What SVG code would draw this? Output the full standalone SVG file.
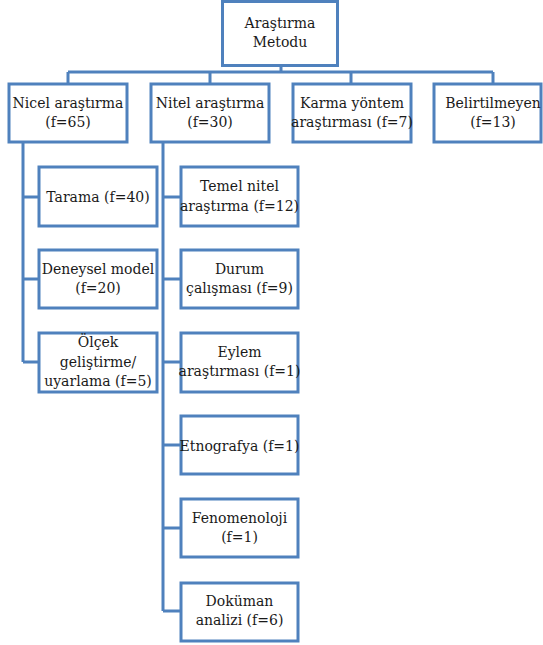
<svg xmlns="http://www.w3.org/2000/svg" width="543" height="645" viewBox="0 0 543 645">
<style>
.b{fill:#fff;stroke:#4f81bd;stroke-width:3}
.c{fill:none;stroke:#4f81bd;stroke-width:3}
text{font-family:'DejaVu Serif',serif;font-size:14px;fill:#1a1a1a;text-anchor:middle}
</style>
<rect width="543" height="645" fill="#fff"/>
<g id="connectors">
<path class="c" d="M281,66V72M68,72H493M68,72V84M210,72V84M351,72V84M493,72V84"/>
<path class="c" d="M23,142V362M23,197H39M23,279H39M23,362H39"/>
<path class="c" d="M163,142V611M163,197H181M163,279H181M163,362H181M163,445H181M163,528H181M163,611H181"/>
</g>
<g id="root"><rect class="b" x="222.5" y="1.5" width="115" height="64"/><text x="280" y="28">Araştırma</text><text x="280" y="46.5">Metodu</text></g>
<g id="nicel"><rect class="b" x="9" y="84" width="118" height="58"/><text x="68" y="107.5">Nicel araştırma</text><text x="68" y="126.5">(f=65)</text></g>
<g id="nitel"><rect class="b" x="151" y="84" width="118" height="58"/><text x="210" y="107.5">Nitel araştırma</text><text x="210" y="126.5">(f=30)</text></g>
<g id="karma"><rect class="b" x="293" y="84" width="118" height="58"/><text x="352" y="107.5">Karma yöntem</text><text x="352" y="126.5">araştırması (f=7)</text></g>
<g id="belirtilmeyen"><rect class="b" x="434" y="84" width="107" height="58"/><text x="493" y="107.5">Belirtilmeyen</text><text x="493" y="126.5">(f=13)</text></g>
<g id="tarama"><rect class="b" x="39" y="167" width="118" height="59"/><text x="98" y="202">Tarama (f=40)</text></g>
<g id="deneysel"><rect class="b" x="39" y="250" width="118" height="58"/><text x="98" y="273.5">Deneysel model</text><text x="98" y="292.5">(f=20)</text></g>
<g id="olcek"><rect class="b" x="39" y="333" width="118" height="59"/><text x="98" y="347">Ölçek</text><text x="98" y="366.5">geliştirme/</text><text x="98" y="385.5">uyarlama (f=5)</text></g>
<g id="temel"><rect class="b" x="181" y="167" width="117" height="59"/><text x="239.5" y="191">Temel nitel</text><text x="239.5" y="210.5">araştırma (f=12)</text></g>
<g id="durum"><rect class="b" x="181" y="250" width="117" height="58"/><text x="239.5" y="273.5">Durum</text><text x="239.5" y="292.5">çalışması (f=9)</text></g>
<g id="eylem"><rect class="b" x="181" y="333" width="117" height="59"/><text x="239.5" y="357">Eylem</text><text x="239.5" y="376">araştırması (f=1)</text></g>
<g id="etnografya"><rect class="b" x="181" y="416" width="117" height="58"/><text x="239.5" y="451">Etnografya (f=1)</text></g>
<g id="fenomenoloji"><rect class="b" x="181" y="499" width="117" height="58"/><text x="239.5" y="522.5">Fenomenoloji</text><text x="239.5" y="541.5">(f=1)</text></g>
<g id="dokuman"><rect class="b" x="181" y="583" width="117" height="58"/><text x="239.5" y="606">Doküman</text><text x="239.5" y="625">analizi (f=6)</text></g>
</svg>
